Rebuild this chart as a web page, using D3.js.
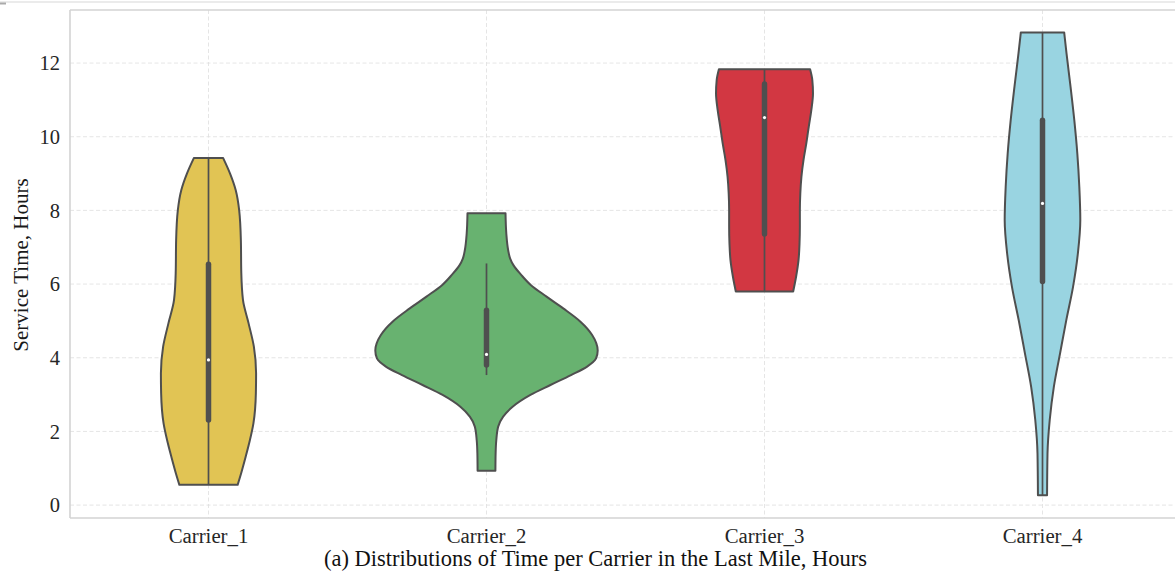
<!DOCTYPE html>
<html>
<head>
<meta charset="utf-8">
<script src="https://cdn.jsdelivr.net/npm/d3@7"></script>
<style>
  html, body { margin: 0; padding: 0; background: #fff; }
  svg { display: block; font-family: "Liberation Serif", "Times New Roman", serif; }
</style>
</head>
<body>
<svg id="chart" width="1175" height="576"></svg>
<script>
// ---------------- data ----------------
const categories = ["Carrier_1", "Carrier_2", "Carrier_3", "Carrier_4"];
const colors = ["#e1c454", "#68b270", "#d23742", "#99d4e1"];
const yTicks = [0, 2, 4, 6, 8, 10, 12];

// violin profiles: [service time (hours), relative density (1 = widest violin)]
const carrier1Density = [
  [9.42, 0.132], [9.0, 0.194], [8.55, 0.245], [8.0, 0.276], [7.2, 0.291],
  [6.3, 0.295], [5.57, 0.310], [4.94, 0.360], [4.3, 0.408], [3.58, 0.428],
  [3.04, 0.426], [2.22, 0.404], [1.76, 0.372], [1.3, 0.333], [0.86, 0.293],
  [0.55, 0.262]
];
const carrier2Density = [
  [7.92, 0.171], [7.38, 0.178], [6.92, 0.195], [6.7, 0.212], [6.5, 0.245],
  [6.25, 0.312], [5.97, 0.400], [5.66, 0.540], [5.34, 0.690], [4.98, 0.845],
  [4.62, 0.950], [4.2, 1.0], [3.98, 0.985], [3.76, 0.905], [3.53, 0.760],
  [3.26, 0.575], [2.99, 0.395], [2.67, 0.235], [2.40, 0.150], [2.13, 0.105],
  [1.76, 0.088], [1.4, 0.082], [0.93, 0.080]
];
const carrier3Density = [
  [11.83, 0.410], [11.54, 0.430], [11.18, 0.436], [10.72, 0.421], [10.27, 0.398],
  [9.82, 0.376], [9.37, 0.351], [8.91, 0.332], [8.46, 0.322], [8.01, 0.318],
  [7.56, 0.318], [7.1, 0.315], [6.65, 0.306], [6.2, 0.284], [5.8, 0.258]
];
const carrier4Density = [
  [12.83, 0.195], [12.26, 0.216], [11.36, 0.252], [10.45, 0.286], [9.55, 0.313],
  [8.64, 0.331], [7.74, 0.340], [6.83, 0.318], [5.93, 0.275], [5.02, 0.214],
  [4.12, 0.158], [3.21, 0.102], [2.31, 0.065], [1.4, 0.045], [0.27, 0.041]
];
const densities = [carrier1Density, carrier2Density, carrier3Density, carrier4Density];

// inner box stats: [lower whisker, Q1, median, Q3, upper whisker]
const boxStats = [
  [0.55, 2.31, 3.94, 6.54, 9.42],
  [3.53, 3.80, 4.09, 5.29, 6.56],
  [5.80, 7.36, 10.52, 11.43, 11.83],
  [0.27, 6.07, 8.19, 10.45, 12.83]
];

const yLabel = "Service Time, Hours";
const caption = "(a) Distributions of Time per Carrier in the Last Mile, Hours";

// ---------------- layout ----------------
const svg = d3.select("#chart");
const plot = { left: 70, right: 1181, top: 10, bottom: 518 };

const x = d3.scaleBand().domain(categories).range([plot.left - 0.5, plot.right + 0.5]).padding(0);
const y = d3.scaleLinear().domain([-0.35, 13.44]).range([plot.bottom, plot.top]);
const w = d3.scaleLinear().domain([0, 1]).range([0, 0.4 * x.bandwidth()]);
const cx = c => x(c) + x.bandwidth() / 2;

// figure top border line + small mark
svg.append("line").attr("x1", 0).attr("x2", 1175).attr("y1", 2).attr("y2", 2)
  .attr("stroke", "#e4e4e4").attr("stroke-width", 1.5);
svg.append("line").attr("x1", 0).attr("x2", 6).attr("y1", 3.5).attr("y2", 3.5)
  .attr("stroke", "#aaaaaa").attr("stroke-width", 2);

// grid
const grid = svg.append("g");
grid.selectAll("line.h").data(yTicks).join("line")
  .attr("x1", plot.left).attr("x2", plot.right)
  .attr("y1", d => y(d)).attr("y2", d => y(d))
  .attr("stroke", "#dedede").attr("stroke-width", 0.8).attr("stroke-dasharray", "4,2.5");
grid.selectAll("line.v").data(categories).join("line")
  .attr("x1", d => cx(d)).attr("x2", d => cx(d))
  .attr("y1", plot.top).attr("y2", plot.bottom)
  .attr("stroke", "#dedede").attr("stroke-width", 0.8).attr("stroke-dasharray", "4,2.5");

// spines
const spine = "#d3d3d3";
svg.append("line").attr("x1", plot.left).attr("x2", plot.left).attr("y1", plot.top).attr("y2", plot.bottom)
  .attr("stroke", spine).attr("stroke-width", 1.6);
svg.append("line").attr("x1", plot.left).attr("x2", plot.right).attr("y1", plot.top).attr("y2", plot.top)
  .attr("stroke", spine).attr("stroke-width", 1.6);
svg.append("line").attr("x1", plot.left).attr("x2", plot.right).attr("y1", plot.bottom).attr("y2", plot.bottom)
  .attr("stroke", spine).attr("stroke-width", 1.6);

// violins
const violins = svg.append("g");
categories.forEach((c, i) => {
  const area = d3.area()
    .curve(d3.curveMonotoneY)
    .y(d => y(d[0]))
    .x0(d => cx(c) - w(d[1]))
    .x1(d => cx(c) + w(d[1]));
  violins.append("path")
    .datum(densities[i].slice().sort((a, b) => b[0] - a[0]))
    .attr("d", area)
    .attr("fill", colors[i])
    .attr("stroke", "#4f4f4f")
    .attr("stroke-width", 2)
    .attr("stroke-linejoin", "round");

  const [lo, q1, med, q3, hi] = boxStats[i];
  violins.append("line")
    .attr("x1", cx(c)).attr("x2", cx(c)).attr("y1", y(lo)).attr("y2", y(hi))
    .attr("stroke", "#4f4f4f").attr("stroke-width", 1.7);
  violins.append("line")
    .attr("x1", cx(c)).attr("x2", cx(c)).attr("y1", y(q1)).attr("y2", y(q3))
    .attr("stroke", "#4f4f4f").attr("stroke-width", 5.5).attr("stroke-linecap", "round");
  violins.append("circle")
    .attr("cx", cx(c)).attr("cy", y(med)).attr("r", 1.6)
    .attr("fill", "#ffffff");
});

// y tick labels
svg.append("g").selectAll("text").data(yTicks).join("text")
  .attr("x", 60).attr("y", d => y(d)).attr("dy", "0.35em")
  .attr("text-anchor", "end").attr("font-size", 20.5).attr("fill", "#262626")
  .text(d => d);

// x tick labels
svg.append("g").selectAll("text").data(categories).join("text")
  .attr("x", d => cx(d)).attr("y", 543)
  .attr("text-anchor", "middle").attr("font-size", 20.8).attr("fill", "#262626")
  .text(d => d);

// y label
svg.append("text")
  .attr("transform", "translate(28,265) rotate(-90)")
  .attr("text-anchor", "middle").attr("font-size", 21).attr("fill", "#1a1a1a")
  .text(yLabel);

// caption
svg.append("text")
  .attr("x", 595.5).attr("y", 566)
  .attr("text-anchor", "middle").attr("font-size", 22.5).attr("fill", "#111")
  .text(caption);
</script>
</body>
</html>
